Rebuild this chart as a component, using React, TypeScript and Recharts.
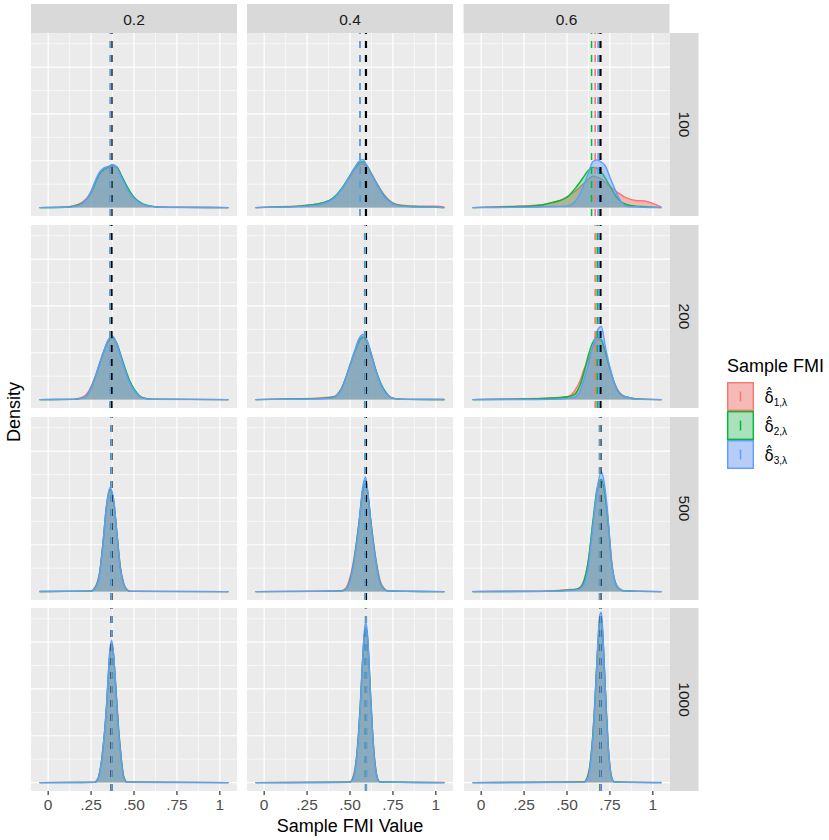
import React from "react";
import { ComposedChart, Area, XAxis, YAxis, CartesianGrid, ReferenceLine } from "recharts";

// facet labels
const columns = ["0.2", "0.4", "0.6"];
const rows = ["100", "200", "500", "1000"];
const seriesKeys = ["r", "g", "b"];
const seriesSubs = ["1", "2", "3"];
const colors = ["#F8766D", "#00BA38", "#619CFF"];
const fillAlpha = [0.45, 0.3, 0.42];

// axes
const xMajor = [0, 0.25, 0.5, 0.75, 1];
const xTickLabels = ["0", ".25", ".50", ".75", "1"];
const xMinor = [0.125, 0.375, 0.625, 0.875];
const yMajor = [0, 10, 20, 30];
const yMinor = [5, 15, 25, 35];
const xDomain = [-0.1, 1.1];
const yDomain = [-1.8, 37.3];

// true FMI per column (black dashed) and sample means per panel [r, g, b]
const trueFmi = [0.369, 0.593, 0.695];
const means100 = [[0.364, 0.362, 0.363], [0.557, 0.557, 0.557], [0.664, 0.643, 0.681]];
const means200 = [[0.36, 0.36, 0.359], [0.585, 0.587, 0.589], [0.664, 0.676, 0.685]];
const means500 = [[0.366, 0.367, 0.368], [0.587, 0.587, 0.587], [0.689, 0.69, 0.692]];
const means1000 = [[0.369, 0.37, 0.371], [0.593, 0.593, 0.594], [0.694, 0.695, 0.696]];

// densities, n = 100
const d100a = {
  x: [-0.05, 0.1, 0.15, 0.2, 0.225, 0.25, 0.275, 0.3, 0.325, 0.35, 0.375, 0.4, 0.425, 0.45, 0.475, 0.5, 0.55, 0.6, 0.65, 0.8, 1.05],
  r: [0, 0.15, 0.4, 1.2, 2.0, 3.4, 5.5, 7.2, 8.0, 8.5, 8.8, 8.5, 6.8, 4.9, 3.3, 2.1, 0.8, 0.3, 0.12, 0.06, 0],
  g: [0, 0.08, 0.3, 1.0, 1.8, 3.2, 5.3, 7.2, 8.2, 8.7, 9.0, 8.7, 7.0, 5.2, 3.5, 2.2, 0.8, 0.3, 0.1, 0.04, 0],
  b: [0, 0.05, 0.2, 0.9, 1.8, 3.5, 5.8, 7.6, 8.5, 8.8, 9.2, 8.6, 6.6, 4.8, 3.1, 2.0, 0.7, 0.25, 0.08, 0.03, 0],
};
const d100b = {
  x: [-0.05, 0.1, 0.2, 0.3, 0.35, 0.4, 0.45, 0.5, 0.525, 0.55, 0.575, 0.6, 0.625, 0.65, 0.7, 0.75, 0.8, 0.9, 1.0, 1.05],
  r: [0, 0.2, 0.35, 0.7, 1.1, 2.0, 3.9, 6.6, 8.0, 9.0, 9.3, 8.7, 7.2, 5.6, 2.7, 1.0, 0.5, 0.3, 0.3, 0.1],
  g: [0, 0.15, 0.3, 0.7, 1.1, 2.0, 4.0, 6.9, 8.3, 9.4, 9.8, 8.9, 7.2, 5.5, 2.5, 0.9, 0.4, 0.2, 0.1, 0],
  b: [0, 0.1, 0.2, 0.5, 0.9, 1.8, 3.8, 6.8, 8.4, 9.8, 10.3, 8.7, 7.1, 5.4, 2.3, 0.8, 0.3, 0.1, 0.05, 0],
};
const d100c = {
  x: [-0.05, 0.1, 0.2, 0.3, 0.35, 0.4, 0.45, 0.5, 0.55, 0.6, 0.625, 0.65, 0.675, 0.7, 0.725, 0.75, 0.775, 0.8, 0.85, 0.9, 0.95, 1.0, 1.05],
  r: [0, 0.2, 0.3, 0.45, 0.6, 0.9, 1.4, 2.3, 3.6, 5.2, 6.1, 6.7, 6.5, 6.1, 5.3, 4.6, 3.8, 3.1, 2.0, 1.5, 1.4, 0.9, 0.1],
  g: [0, 0.1, 0.2, 0.35, 0.5, 1.0, 1.4, 2.2, 4.2, 6.7, 8.0, 8.6, 8.4, 7.6, 6.2, 4.6, 3.0, 1.7, 0.6, 0.3, 0.2, 0.1, 0],
  b: [0, 0.02, 0.05, 0.1, 0.15, 0.2, 0.25, 0.35, 1.4, 5.0, 7.4, 9.8, 10.2, 9.7, 8.8, 6.5, 4.3, 2.2, 0.25, 0.15, 0.05, 0.02, 0],
};

// densities, n = 200
const d200a = {
  x: [-0.05, 0.15, 0.2, 0.225, 0.25, 0.275, 0.3, 0.325, 0.35, 0.375, 0.4, 0.425, 0.45, 0.475, 0.5, 0.525, 0.55, 0.6, 1.05],
  r: [0, 0.1, 0.5, 1.2, 2.8, 5.1, 7.8, 10.4, 12.4, 13.1, 11.8, 9.1, 6.2, 3.8, 2.1, 1.0, 0.4, 0.1, 0],
  g: [0, 0.05, 0.3, 0.9, 2.4, 4.8, 7.6, 10.4, 12.6, 13.3, 12.0, 9.3, 6.5, 4.0, 2.3, 1.1, 0.4, 0.1, 0],
  b: [0, 0.05, 0.3, 0.9, 2.5, 4.9, 7.8, 10.5, 12.8, 13.6, 11.9, 9.0, 6.0, 3.6, 2.0, 0.9, 0.3, 0.05, 0],
};
const d200b = {
  x: [-0.05, 0.1, 0.3, 0.4, 0.425, 0.45, 0.475, 0.5, 0.525, 0.55, 0.575, 0.6, 0.625, 0.65, 0.675, 0.7, 0.725, 0.75, 0.8, 1.05],
  r: [0, 0.15, 0.3, 0.6, 1.1, 2.4, 4.6, 7.3, 9.8, 12.1, 13.2, 12.3, 9.5, 6.4, 3.8, 2.0, 0.8, 0.3, 0.1, 0],
  g: [0, 0.1, 0.2, 0.5, 1.0, 2.3, 4.6, 7.4, 10.0, 12.4, 13.4, 12.4, 9.6, 6.4, 3.8, 2.0, 0.8, 0.3, 0.1, 0],
  b: [0, 0.05, 0.15, 0.4, 0.9, 2.2, 4.5, 7.4, 10.2, 12.8, 13.9, 12.6, 9.6, 6.2, 3.6, 1.8, 0.7, 0.25, 0.05, 0],
};
const d200c = {
  x: [-0.05, 0.2, 0.4, 0.45, 0.5, 0.525, 0.55, 0.575, 0.6, 0.625, 0.65, 0.675, 0.7, 0.725, 0.75, 0.775, 0.8, 0.825, 0.85, 0.9, 1.05],
  r: [0, 0.15, 0.35, 0.45, 0.6, 1.0, 2.2, 3.9, 6.6, 8.6, 11.2, 12.9, 12.6, 9.8, 6.5, 3.7, 1.8, 0.9, 0.5, 0.2, 0],
  g: [0, 0.1, 0.3, 0.4, 0.6, 0.8, 1.3, 3.0, 6.0, 9.6, 12.2, 13.3, 12.8, 10.0, 6.6, 3.6, 1.6, 0.8, 0.5, 0.15, 0],
  b: [0, 0.02, 0.05, 0.1, 0.2, 0.35, 0.6, 1.6, 4.4, 7.6, 11.3, 14.6, 15.6, 11.0, 6.9, 3.6, 1.5, 0.8, 0.5, 0.1, 0],
};

// densities, n = 500
const d500a = {
  x: [-0.05, 0.25, 0.275, 0.3, 0.32, 0.34, 0.36, 0.38, 0.4, 0.42, 0.44, 0.46, 0.48, 1.05],
  r: [0, 0.15, 1.0, 4.2, 10.6, 18.0, 21.5, 19.6, 12.8, 5.5, 1.8, 0.4, 0.08, 0],
  g: [0, 0.1, 0.9, 4.0, 10.6, 18.3, 21.8, 19.8, 12.6, 5.2, 1.6, 0.35, 0.05, 0],
  b: [0, 0.1, 0.8, 3.8, 10.5, 18.5, 22.2, 20.0, 12.5, 5.0, 1.5, 0.3, 0.05, 0],
};
const d500b = {
  x: [-0.05, 0.3, 0.45, 0.475, 0.5, 0.525, 0.55, 0.575, 0.59, 0.6, 0.625, 0.65, 0.675, 0.7, 0.725, 1.05],
  r: [0, 0.1, 0.2, 0.7, 3.0, 7.5, 14.0, 21.0, 23.2, 21.8, 14.0, 7.2, 2.4, 0.6, 0.15, 0],
  g: [0, 0.05, 0.15, 0.5, 2.4, 7.0, 14.0, 22.0, 23.8, 22.0, 13.8, 6.8, 2.0, 0.5, 0.1, 0],
  b: [0, 0.05, 0.1, 0.4, 2.2, 6.7, 13.5, 22.5, 24.5, 22.5, 13.5, 6.5, 1.8, 0.4, 0.1, 0],
};
const d500c = {
  x: [-0.05, 0.3, 0.45, 0.5, 0.55, 0.575, 0.6, 0.625, 0.65, 0.675, 0.7, 0.72, 0.74, 0.76, 0.78, 0.8, 0.83, 1.05],
  r: [0, 0.1, 0.25, 0.4, 0.5, 0.9, 2.6, 6.8, 14.2, 21.0, 23.8, 21.2, 14.8, 6.6, 2.2, 0.8, 0.2, 0],
  g: [0, 0.05, 0.15, 0.3, 0.45, 0.8, 2.4, 6.8, 14.8, 22.0, 24.0, 21.0, 14.5, 6.0, 2.0, 0.7, 0.15, 0],
  b: [0, 0.02, 0.1, 0.2, 0.35, 0.6, 1.6, 5.5, 13.8, 21.8, 25.6, 22.5, 15.5, 6.2, 2.0, 0.8, 0.15, 0],
};

// densities, n = 1000
const d1000a = {
  x: [-0.05, 0.27, 0.29, 0.3, 0.31, 0.32, 0.33, 0.34, 0.35, 0.36, 0.37, 0.38, 0.39, 0.4, 0.41, 0.42, 0.43, 0.44, 0.46, 1.05],
  r: [0, 0.1, 0.9, 2.3, 4.4, 7.6, 11.3, 16.0, 22.2, 27.6, 29.6, 27.5, 22.7, 17.2, 11.8, 7.6, 3.9, 1.4, 0.15, 0],
  g: [0, 0.05, 0.8, 2.2, 4.3, 7.6, 11.4, 16.3, 22.6, 28.0, 29.8, 27.6, 22.6, 16.9, 11.4, 7.2, 3.6, 1.2, 0.1, 0],
  b: [0, 0.05, 0.7, 2.1, 4.2, 7.6, 11.5, 16.5, 23.0, 28.5, 30.4, 27.8, 22.5, 16.6, 11.0, 6.9, 3.4, 1.0, 0.05, 0],
};
const d1000b = {
  x: [-0.05, 0.5, 0.515, 0.53, 0.54, 0.55, 0.56, 0.57, 0.58, 0.59, 0.6, 0.61, 0.62, 0.63, 0.64, 0.65, 0.66, 0.675, 1.05],
  r: [0, 0.15, 0.9, 3.2, 6.3, 10.8, 16.6, 23.6, 29.6, 32.8, 31.6, 26.0, 18.6, 11.8, 6.4, 3.0, 1.0, 0.15, 0],
  g: [0, 0.08, 0.7, 2.9, 6.0, 10.6, 16.6, 23.8, 30.0, 33.2, 31.8, 26.0, 18.4, 11.6, 6.2, 2.8, 0.9, 0.12, 0],
  b: [0, 0.05, 0.5, 2.5, 5.5, 10.0, 16.0, 23.5, 30.5, 34.2, 32.5, 26.5, 18.5, 11.5, 6.0, 2.6, 0.8, 0.1, 0],
};
const d1000c = {
  x: [-0.05, 0.6, 0.615, 0.63, 0.64, 0.65, 0.66, 0.67, 0.68, 0.69, 0.7, 0.71, 0.72, 0.73, 0.74, 0.75, 0.76, 0.775, 1.05],
  r: [0, 0.2, 0.9, 3.0, 5.9, 10.0, 15.6, 22.6, 29.2, 34.0, 35.0, 30.4, 22.6, 14.8, 8.0, 3.6, 1.2, 0.2, 0],
  g: [0, 0.1, 0.7, 2.7, 5.6, 9.8, 15.6, 22.8, 29.6, 34.6, 35.4, 30.6, 22.6, 14.6, 7.8, 3.4, 1.1, 0.15, 0],
  b: [0, 0.05, 0.5, 2.3, 5.0, 9.2, 15.0, 22.5, 30.0, 35.6, 36.4, 31.0, 22.5, 14.2, 7.5, 3.2, 1.0, 0.1, 0],
};

const grid = [
  [d100a, d100b, d100c],
  [d200a, d200b, d200c],
  [d500a, d500b, d500c],
  [d1000a, d1000b, d1000c],
];
const gridMeans = [means100, means200, means500, means1000];

// layout
const FONT = "'Liberation Sans', Arial, Helvetica, sans-serif";
const colLeft = [31, 247, 463.5];
const rowTop = [33, 225, 417, 608];
const PW = 206;
const PH = 183;
const AXIS_H = 32;
const DASH = "7 7";
const SMALL = 15.5;

type Dens = { x: number[]; r: number[]; g: number[]; b: number[] };

function Panel({ dens, col, means, showAxis }: { dens: Dens; col: number; means: number[]; showAxis: boolean }) {
  const data = dens.x.map((x, i) => ({ x, r: dens.r[i], g: dens.g[i], b: dens.b[i] }));
  return (
    <ComposedChart
      width={PW}
      height={showAxis ? PH + AXIS_H : PH}
      data={data}
      margin={{ top: 0, right: 0, bottom: 0, left: 0 }}
    >
      <CartesianGrid
        fill="#EBEBEB"
        stroke="#FFFFFF"
        strokeWidth={0.6}
        horizontalValues={yMinor}
        verticalValues={xMinor}
      />
      <CartesianGrid
        fill="none"
        stroke="#FFFFFF"
        strokeWidth={1.2}
        horizontalValues={yMajor}
        verticalValues={xMajor}
      />
      <XAxis
        type="number"
        dataKey="x"
        domain={xDomain}
        ticks={xMajor}
        interval={0}
        hide={!showAxis}
        height={AXIS_H}
        axisLine={false}
        tickSize={4}
        tickMargin={4}
        tickLine={{ stroke: "#333333", strokeWidth: 1.2 }}
        tick={{ fill: "#4D4D4D", fontSize: SMALL, fontFamily: FONT }}
        tickFormatter={(v) => xTickLabels[xMajor.indexOf(v)]}
        allowDataOverflow
      />
      <YAxis type="number" domain={yDomain} hide allowDataOverflow />
      {seriesKeys.map((k, i) => (
        <Area
          key={k}
          dataKey={k}
          type="monotone"
          baseValue={0}
          stroke={colors[i]}
          strokeWidth={1.4}
          fill={colors[i]}
          fillOpacity={fillAlpha[i]}
          dot={false}
          activeDot={false}
          isAnimationActive={false}
        />
      ))}
      <ReferenceLine x={trueFmi[col]} stroke="#000000" strokeWidth={2.2} strokeDasharray={DASH} />
      {means.map((m, i) => (
        <ReferenceLine key={i} x={m} stroke={colors[i]} strokeWidth={1.5} strokeDasharray={DASH} />
      ))}
    </ComposedChart>
  );
}

function LegendLabel({ y, sub }: { y: number; sub: string }) {
  return (
    <text x={764.5} y={y + 6} fontSize={15} fontFamily="'DejaVu Sans', sans-serif" fill="#000">
      {"δ\u0302"}
      <tspan dy={3} fontSize={10} fontFamily={FONT}>{sub},λ</tspan>
    </text>
  );
}

export default function App() {
  const legendTop = 382;
  const keyH = 29;
  return (
    <div style={{ position: "relative", width: 829, height: 840, background: "#FFFFFF", fontFamily: FONT }}>
      <style>{`body{margin:0}`}</style>
      <svg width={829} height={840} style={{ position: "absolute", left: 0, top: 0 }}>
        {/* top strips */}
        {columns.map((c, i) => (
          <g key={c}>
            <rect x={colLeft[i]} y={4} width={PW} height={29} fill="#D9D9D9" />
            <text x={colLeft[i] + PW / 2} y={24.5} textAnchor="middle" fontSize={SMALL} fill="#1A1A1A">
              {c}
            </text>
          </g>
        ))}
        {/* right strips */}
        {rows.map((r, i) => (
          <g key={r}>
            <rect x={669.5} y={rowTop[i]} width={29} height={PH} fill="#D9D9D9" />
            <text
              transform={`translate(678.5, ${rowTop[i] + PH / 2}) rotate(90)`}
              textAnchor="middle"
              fontSize={SMALL}
              fill="#1A1A1A"
            >
              {r}
            </text>
          </g>
        ))}
        {/* axis titles */}
        <text x={350} y={832} textAnchor="middle" fontSize={18} fill="#000">
          Sample FMI Value
        </text>
        <text transform="translate(20, 412) rotate(-90)" textAnchor="middle" fontSize={18} fill="#000">
          Density
        </text>
        {/* legend */}
        <text x={727} y={372} fontSize={18} fill="#000">
          Sample FMI
        </text>
        {colors.map((c, i) => {
          const y = legendTop + i * keyH;
          return (
            <g key={c}>
              <rect x={727} y={y} width={27} height={keyH} fill="#F2F2F2" />
              <rect x={727.7} y={y + 0.7} width={25.6} height={keyH - 1.4} fill={c} fillOpacity={fillAlpha[i]} stroke={c} strokeWidth={1.4} />
              <line x1={740.5} x2={740.5} y1={y + keyH / 2 - 5} y2={y + keyH / 2 + 5} stroke={c} strokeWidth={1.5} />
              <LegendLabel y={y + keyH / 2} sub={seriesSubs[i]} />
            </g>
          );
        })}
      </svg>
      {grid.map((rowPanels, ri) =>
        rowPanels.map((dens, ci) => (
          <div key={`${ri}-${ci}`} style={{ position: "absolute", left: colLeft[ci], top: rowTop[ri] }}>
            <Panel dens={dens} col={ci} means={gridMeans[ri][ci]} showAxis={ri === rows.length - 1} />
          </div>
        ))
      )}
    </div>
  );
}
